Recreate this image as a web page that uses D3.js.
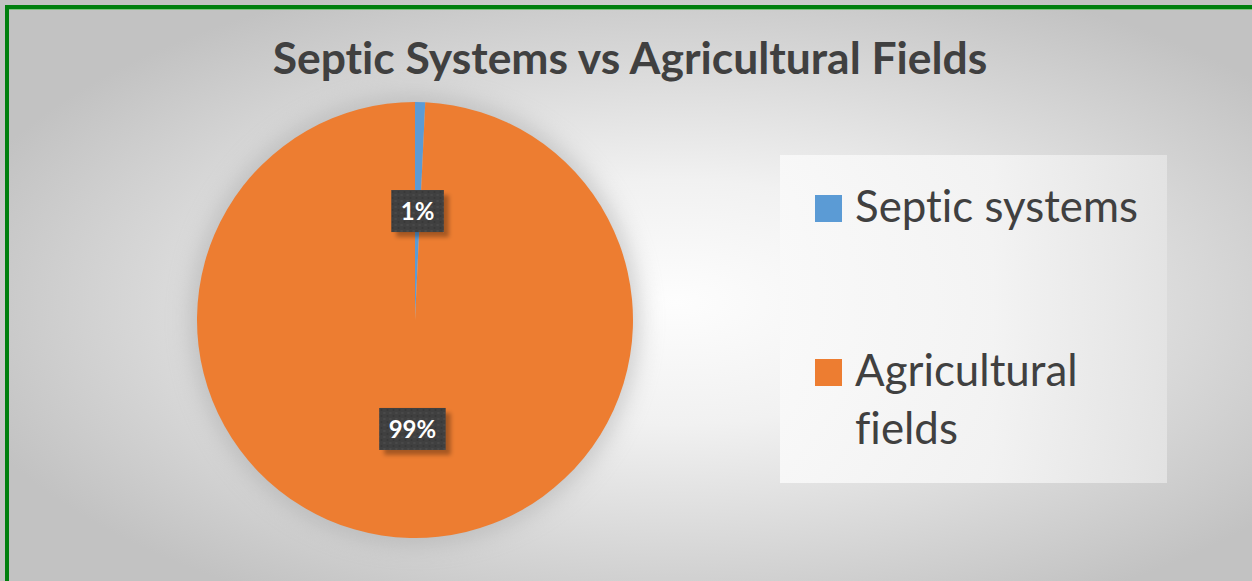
<!DOCTYPE html>
<html>
<head>
<meta charset="utf-8">
<script src="https://cdn.jsdelivr.net/npm/d3@7"></script>
<style>
  html, body { margin: 0; padding: 0; background: #ffffff; }
  svg { display: block; }
  svg text { font-variant-ligatures: none; font-feature-settings: "liga" 0, "clig" 0; }
</style>
</head>
<body>
<svg id="chart" width="1252" height="581"></svg>
<script>
// ---- data ----
const title = "Septic Systems vs Agricultural Fields";
const categories = ["Septic systems", "Agricultural fields"];
const legendLines = [["Septic systems"], ["Agricultural", "fields"]];
const values = [0.75, 99.25];
const labels = ["1%", "99%"];
const colors = ["#5B9BD5", "#ED7D31"];

const W = 1252, H = 581;
const svg = d3.select("#chart");
const defs = svg.append("defs");

// background gradient
const bg = defs.append("radialGradient").attr("id", "bgGrad")
  .attr("cx", "54%").attr("cy", "52%").attr("r", "60%");
bg.append("stop").attr("offset", "0%").attr("stop-color", "#fdfdfd");
bg.append("stop").attr("offset", "35%").attr("stop-color", "#f1f1f1");
bg.append("stop").attr("offset", "100%").attr("stop-color", "#c2c2c2");

// pie glow
const glow = defs.append("filter").attr("id", "pieGlow")
  .attr("x", "-30%").attr("y", "-30%").attr("width", "160%").attr("height", "160%");
glow.append("feGaussianBlur").attr("stdDeviation", 12);

// label shadow
const ls = defs.append("filter").attr("id", "lblShadow")
  .attr("x", "-30%").attr("y", "-30%").attr("width", "160%").attr("height", "160%");
ls.append("feDropShadow").attr("dx", 5).attr("dy", 5).attr("stdDeviation", 2)
  .attr("flood-color", "#000").attr("flood-opacity", 0.3);

// dotted texture for label boxes
const pat = defs.append("pattern").attr("id", "dots").attr("patternUnits", "userSpaceOnUse")
  .attr("width", 6).attr("height", 6);
pat.append("rect").attr("width", 6).attr("height", 6).attr("fill", "#404040");
pat.append("rect").attr("x", 1).attr("y", 1).attr("width", 2).attr("height", 2).attr("fill", "#4a4a4a");
pat.append("rect").attr("x", 4).attr("y", 4).attr("width", 2).attr("height", 2).attr("fill", "#393939");

// legend background gradient
const lg = defs.append("linearGradient").attr("id", "legGrad")
  .attr("x1", "0%").attr("y1", "0%").attr("x2", "100%").attr("y2", "0%");
lg.append("stop").attr("offset", "0%").attr("stop-color", "#f9f9f9");
lg.append("stop").attr("offset", "55%").attr("stop-color", "#f4f4f4");
lg.append("stop").attr("offset", "100%").attr("stop-color", "#e4e4e4");

svg.append("rect").attr("width", W).attr("height", H).attr("fill", "url(#bgGrad)");

// frame
svg.append("rect").attr("x", 7).attr("y", 7).attr("width", W + 20).attr("height", H + 20)
  .attr("fill", "none").attr("stroke", "#007f0e").attr("stroke-width", 4);
svg.append("line").attr("x1", 9).attr("x2", W).attr("y1", 9.5).attr("y2", 9.5)
  .attr("stroke", "#7fc27f").attr("stroke-width", 1);

// title
const fontFam = "Lato, 'Open Sans', 'DejaVu Sans', sans-serif";
const t = svg.append("text").attr("x", 630).attr("y", 74)
  .attr("text-anchor", "middle").attr("font-family", fontFam)
  .attr("font-weight", "bold").attr("font-size", 38).attr("fill", "#404040")
  .text(title);
{
  const w = t.node().getComputedTextLength();
  t.attr("font-size", 38 * 715 / w);
}

// pie
const cx = 415, cy = 320, R = 218;
const g = svg.append("g").attr("transform", `translate(${cx},${cy})`);
g.append("circle").attr("r", R + 6).attr("fill", "#a0a0a0").attr("opacity", 0.5)
  .attr("filter", "url(#pieGlow)");

const pie = d3.pie().sort(null).value(d => d);
const arcs = pie(values);
const arc = d3.arc().innerRadius(0).outerRadius(R);
const labelArc = d3.arc().innerRadius(R * 0.5).outerRadius(R * 0.5);

g.selectAll("path.slice").data(arcs).join("path")
  .attr("class", "slice")
  .attr("d", arc)
  .attr("fill", (d, i) => colors[i]);

// data labels
const lblG = g.selectAll("g.lbl").data(arcs).join("g")
  .attr("class", "lbl")
  .attr("transform", d => { const c = labelArc.centroid(d); return `translate(${c[0]},${c[1]})`; });
lblG.each(function(d, i) {
  const s = d3.select(this);
  const txt = s.append("text").attr("text-anchor", "middle").attr("dy", "0.36em")
    .attr("font-family", fontFam).attr("font-weight", "bold").attr("font-size", 24)
    .attr("fill", "#ffffff").text(labels[i]);
  const w = txt.node().getComputedTextLength() + 19;
  const h = 42;
  s.insert("rect", "text").attr("x", -w / 2).attr("y", -h / 2).attr("width", w).attr("height", h)
    .attr("fill", "url(#dots)").attr("filter", "url(#lblShadow)");
});

// legend
svg.append("rect").attr("x", 780).attr("y", 155).attr("width", 387).attr("height", 328)
  .attr("fill", "url(#legGrad)").attr("opacity", 0.9);
const legY = [222, 386];
const leg = svg.selectAll("g.leg").data(categories).join("g").attr("class", "leg")
  .attr("transform", (d, i) => `translate(815,${legY[i]})`);
leg.append("rect").attr("x", 0).attr("y", -27).attr("width", 27).attr("height", 27)
  .attr("fill", (d, i) => colors[i]);
leg.each(function(d, i) {
  const s = d3.select(this);
  const tx = s.append("text").attr("x", 40).attr("y", 0)
    .attr("font-family", fontFam).attr("font-size", 40).attr("fill", "#404040");
  legendLines[i].forEach((ln, j) => {
    tx.append("tspan").attr("x", 40).attr("dy", j === 0 ? 0 : 58).text(ln);
  });
});
// scale legend font so "Septic systems" spans ~283px
{
  const first = leg.select("text").node();
  const w = first.querySelector("tspan").getComputedTextLength();
  const fs = 40 * 283 / w;
  leg.selectAll("text").attr("font-size", fs);
}
</script>
</body>
</html>
